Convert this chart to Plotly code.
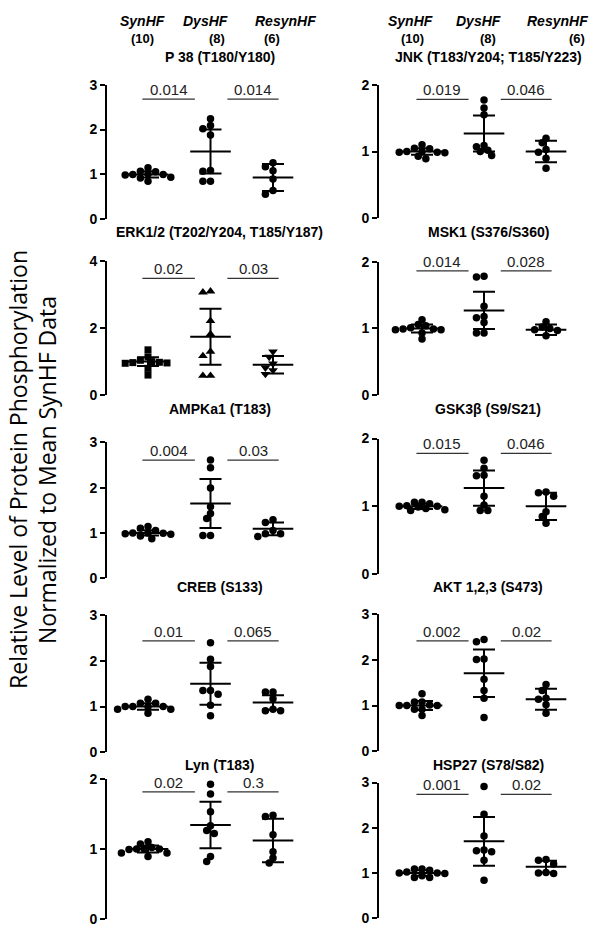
import plotly.graph_objects as go
import numpy as np

# ---------------- data ----------------
groups = ["SynHF", "DysHF", "ResynHF"]
group_counts = ["(10)", "(8)", "(6)"]

titles = ["P 38 (T180/Y180)", "ERK1/2 (T202/Y204, T185/Y187)", "AMPKa1 (T183)",
          "CREB (S133)", "Lyn (T183)",
          "JNK (T183/Y204; T185/Y223)", "MSK1 (S376/S360)", "GSK3β (S9/S21)",
          "AKT 1,2,3 (S473)", "HSP27 (S78/S82)"]

p38_values = [[1.15, 1.07, 1.06, 1.01, 1.0, 1.0, 0.99, 0.94, 0.92, 0.85],
              [2.24, 2.09, 2.02, 1.88, 1.09, 1.07, 0.85, 0.85],
              [1.26, 1.17, 1.08, 0.90, 0.64, 0.56]]
p38_mean = [1.0, 1.51, 0.93]
p38_sd = [0.07, 0.49, 0.30]
p38_sig = 2.68
p38_p = ["0.014", "0.014"]

erk_values = [[1.35, 1.14, 1.04, 1.0, 0.98, 0.97, 0.96, 0.95, 0.80, 0.60],
              [3.09, 3.06, 2.21, 1.82, 1.30, 1.17, 0.58, 0.58],
              [1.30, 1.14, 0.94, 0.82, 0.74, 0.63]]
erk_mean = [1.0, 1.74, 0.91]
erk_sd = [0.13, 0.83, 0.26]
erk_sig = 3.47
erk_p = ["0.02", "0.03"]

ampk_values = [[1.14, 1.10, 1.05, 1.0, 1.0, 0.99, 0.98, 0.97, 0.93, 0.87],
               [2.61, 2.44, 1.99, 1.58, 1.43, 1.32, 0.94, 0.94],
               [1.29, 1.23, 1.05, 0.98, 0.98, 0.92]]
ampk_mean = [1.0, 1.65, 1.09]
ampk_sd = [0.06, 0.54, 0.14]
ampk_sig = 2.61
ampk_p = ["0.004", "0.03"]

creb_values = [[1.16, 1.07, 1.07, 1.0, 1.0, 1.0, 1.0, 0.94, 0.94, 0.85],
               [2.40, 2.04, 1.88, 1.35, 1.35, 1.27, 1.03, 0.80],
               [1.32, 1.32, 1.17, 0.94, 0.91, 0.91]]
creb_mean = [1.0, 1.50, 1.09]
creb_sd = [0.07, 0.46, 0.16]
creb_sig = 2.44
creb_p = ["0.01", "0.065"]

lyn_values = [[1.10, 1.07, 1.02, 1.0, 1.0, 0.99, 1.0, 0.94, 0.94, 0.89],
              [1.92, 1.78, 1.53, 1.33, 1.26, 1.22, 0.89, 0.82],
              [1.48, 1.46, 1.20, 0.96, 0.87, 0.80]]
lyn_mean = [1.0, 1.34, 1.12]
lyn_sd = [0.05, 0.33, 0.31]
lyn_sig = 1.81
lyn_p = ["0.02", "0.3"]

jnk_values = [[1.10, 1.05, 1.04, 1.0, 1.0, 0.99, 0.99, 0.98, 0.93, 0.89],
              [1.77, 1.65, 1.55, 1.09, 1.07, 1.02, 1.0, 0.94],
              [1.20, 1.13, 1.03, 0.99, 0.90, 0.75]]
jnk_mean = [1.0, 1.27, 1.0]
jnk_sd = [0.05, 0.27, 0.16]
jnk_sig = 1.78
jnk_p = ["0.019", "0.046"]

msk1_values = [[1.13, 1.06, 1.04, 1.01, 0.99, 0.99, 0.98, 0.98, 0.93, 0.84],
               [1.78, 1.77, 1.33, 1.18, 1.16, 1.09, 0.93, 0.93],
               [1.10, 1.02, 1.0, 0.98, 0.97, 0.89]]
msk1_mean = [1.0, 1.27, 0.98]
msk1_sd = [0.06, 0.28, 0.08]
msk1_sig = 1.86
msk1_p = ["0.014", "0.028"]

gsk_values = [[1.06, 1.06, 1.04, 1.01, 1.0, 1.0, 0.99, 0.97, 0.95, 0.94],
              [1.68, 1.56, 1.46, 1.45, 1.15, 1.02, 0.94, 0.94],
              [1.21, 1.20, 1.15, 0.92, 0.85, 0.75]]
gsk_mean = [1.0, 1.27, 1.0]
gsk_sd = [0.04, 0.26, 0.20]
gsk_sig = 1.78
gsk_p = ["0.015", "0.046"]

akt_values = [[1.26, 1.08, 1.08, 1.01, 1.0, 1.0, 1.0, 0.92, 0.92, 0.78],
              [2.45, 2.40, 2.02, 2.01, 1.58, 1.33, 1.16, 0.74],
              [1.46, 1.33, 1.16, 1.14, 1.02, 0.83]]
akt_mean = [1.0, 1.71, 1.14]
akt_sd = [0.10, 0.52, 0.23]
akt_sig = 2.42
akt_p = ["0.002", "0.02"]

hsp27_values = [[1.09, 1.09, 1.06, 1.02, 1.0, 1.0, 0.99, 0.94, 0.90, 0.90],
                [2.91, 2.30, 1.82, 1.51, 1.49, 1.47, 1.28, 0.84],
                [1.30, 1.28, 1.20, 1.01, 1.0, 0.99]]
hsp27_mean = [1.0, 1.70, 1.14]
hsp27_sd = [0.06, 0.54, 0.13]
hsp27_sig = 2.74
hsp27_p = ["0.001", "0.02"]

panels = [
    (p38_values, p38_mean, p38_sd, p38_sig, p38_p, 3, 1),
    (erk_values, erk_mean, erk_sd, erk_sig, erk_p, 4, 2),
    (ampk_values, ampk_mean, ampk_sd, ampk_sig, ampk_p, 3, 1),
    (creb_values, creb_mean, creb_sd, creb_sig, creb_p, 3, 1),
    (lyn_values, lyn_mean, lyn_sd, lyn_sig, lyn_p, 2, 1),
    (jnk_values, jnk_mean, jnk_sd, jnk_sig, jnk_p, 2, 1),
    (msk1_values, msk1_mean, msk1_sd, msk1_sig, msk1_p, 2, 1),
    (gsk_values, gsk_mean, gsk_sd, gsk_sig, gsk_p, 2, 1),
    (akt_values, akt_mean, akt_sd, akt_sig, akt_p, 3, 1),
    (hsp27_values, hsp27_mean, hsp27_sd, hsp27_sig, hsp27_p, 3, 1),
]

# ---------------- layout geometry ----------------
W, H = 600, 937
FONT = "Liberation Sans, Arial, sans-serif"

# pixel boxes (top, bottom) for each panel
left_rows = [(78, 215), (257, 394), (442, 580), (618, 757), (784, 927)]
right_rows = [(78, 214), (258, 394), (438, 576), (617, 756), (788, 926)]
left_x = (107, 300, -0.656, 62.5)     # axis px, right px, x at axis, px per unit
right_x = (379, 597, -0.694, 62.0)
title_x = [220, 488]

symbols_default = ["circle", "circle", "circle"]
symbols_erk = ["square", "triangle-up", "triangle-down"]


def swarm(vals, ppu_y, d=7.6, overlap=0.8):
    """Simple beeswarm: returns horizontal pixel offsets for each value."""
    order = np.argsort(-np.asarray(vals), kind="stable")
    cands = [0.0]
    for j in range(1, 30):
        cands += [-j * d / 2, j * d / 2]
    placed = []
    offs = [0.0] * len(vals)
    dd = d * overlap
    for i in order:
        y = vals[i] * ppu_y
        for c in cands:
            if all((c - px) ** 2 + (y - py) ** 2 >= dd ** 2 for px, py in placed):
                offs[i] = c
                placed.append((c, y))
                break
    return offs


fig = go.Figure()
layout = dict(
    width=W, height=H, margin=dict(l=0, r=0, t=0, b=0),
    paper_bgcolor="white", plot_bgcolor="white", showlegend=False,
    font=dict(family=FONT, color="black"),
)
annotations = []
shapes = []

for k, (vals, means, sds, sig, pvals, ymax, dtick) in enumerate(panels):
    col = 0 if k < 5 else 1
    row = k % 5
    top, bot = (left_rows if col == 0 else right_rows)[row]
    ax_px, right_px, x0, ppu_x = left_x if col == 0 else right_x
    xr = [x0, x0 + (right_px - ax_px) / ppu_x]
    ppu_y = (bot - top) / ymax
    sfx = "" if k == 0 else str(k + 1)
    xa, ya = "x" + sfx, "y" + sfx

    layout["xaxis" + sfx] = dict(domain=[ax_px / W, right_px / W], range=xr,
                                 visible=False, fixedrange=True, anchor=ya)
    layout["yaxis" + sfx] = dict(
        domain=[1 - bot / H, 1 - top / H], range=[0, ymax], anchor=xa,
        showline=True, linecolor="black", linewidth=2, ticks="outside",
        ticklen=5, tickwidth=2, tickcolor="black", dtick=dtick, tick0=0,
        showgrid=False, zeroline=False, fixedrange=True,
        tickfont=dict(family=FONT, size=14, color="black", weight="bold"),
    )

    syms = symbols_erk if k == 1 else symbols_default
    for g in range(3):
        offs = swarm(vals[g], ppu_y)
        xs = [g + o / ppu_x for o in offs]
        size = 7.5 if syms[g] == "circle" else (7 if syms[g] == "square" else 8.5)
        fig.add_trace(go.Scatter(
            x=xs, y=vals[g], mode="markers", xaxis=xa, yaxis=ya,
            marker=dict(symbol=syms[g], size=size, color="black", line=dict(width=0)),
            cliponaxis=False, hoverinfo="y"))
    # mean +/- SD
    fig.add_trace(go.Scatter(
        x=[0, 1, 2], y=means, mode="markers", xaxis=xa, yaxis=ya,
        marker=dict(symbol="line-ew", size=29, color="black",
                    line=dict(width=2, color="black")),
        error_y=dict(type="data", array=sds, visible=True, width=11,
                     thickness=2, color="black"),
        cliponaxis=False, hoverinfo="y"))

    # significance bars
    for (a, b), ptxt in zip([(-0.09, 0.75), (1.27, 2.09)], pvals):
        shapes.append(dict(type="line", xref=xa, yref=ya, x0=a, x1=b, y0=sig, y1=sig,
                           line=dict(color="#333333", width=1.3)))
        annotations.append(dict(xref=xa, yref=ya, x=(a + b) / 2, y=sig, text=ptxt,
                                showarrow=False, yanchor="bottom", yshift=-1,
                                font=dict(family=FONT, size=15, color="#222222")))

    # panel title
    ty = [50, 228, 408, 589, 770][row]
    annotations.append(dict(xref="paper", yref="paper", x=title_x[col] / W, y=1 - ty / H,
                            text=titles[k], showarrow=False, xanchor="center",
                            yanchor="middle",
                            font=dict(family=FONT, size=14, color="black", weight="bold")))

# column headers
head_name_x = [[142, 205, 285], [410, 478, 557]]
head_count_x = [[142, 217, 272], [412, 488, 577]]
for col in range(2):
    for g in range(3):
        annotations.append(dict(xref="paper", yref="paper", x=head_name_x[col][g] / W,
                                y=1 - 13 / H, text="<b><i>" + groups[g] + "</i></b>",
                                showarrow=False, xanchor="center", yanchor="middle",
                                font=dict(family=FONT, size=14, color="black")))
        annotations.append(dict(xref="paper", yref="paper", x=head_count_x[col][g] / W,
                                y=1 - 31 / H, text="<b>" + group_counts[g] + "</b>",
                                showarrow=False, xanchor="center", yanchor="middle",
                                font=dict(family=FONT, size=13, color="black")))

# y-axis title (two lines)
for txt, xp in [("Relative Level of Protein Phosphorylation", 18),
                ("Normalized to Mean SynHF Data", 47)]:
    annotations.append(dict(xref="paper", yref="paper", x=xp / W, y=1 - 470 / H,
                            text=txt, textangle=-90, showarrow=False,
                            xanchor="center", yanchor="middle",
                            font=dict(family="Open Sans, Lato, sans-serif", size=23,
                                      color="black")))

layout["annotations"] = annotations
layout["shapes"] = shapes
fig.update_layout(**layout)
fig.write_html("out.html", config={"displayModeBar": False, "staticPlot": True},
               post_script="document.body.style.margin='0';document.body.style.padding='0';")
